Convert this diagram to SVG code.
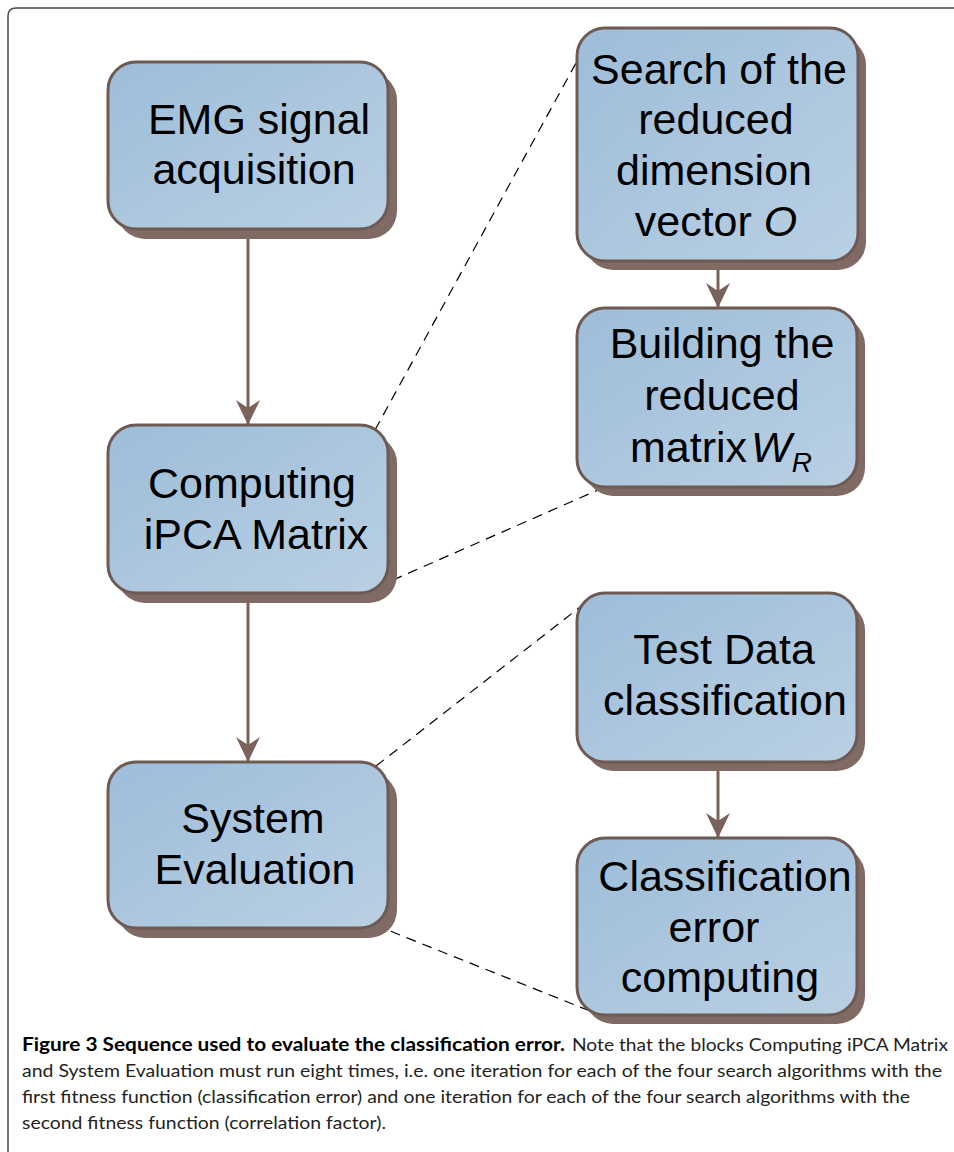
<svg xmlns="http://www.w3.org/2000/svg" width="954" height="1152" viewBox="0 0 954 1152">
  <defs>
    <linearGradient id="boxFill" x1="0" y1="0" x2="1" y2="1">
      <stop offset="0" stop-color="#9dbdd9"/>
      <stop offset="1" stop-color="#bad0e3"/>
    </linearGradient>
    <!-- concave arrowhead drawn along +x so orient="auto" follows the line -->
    <marker id="head" markerUnits="userSpaceOnUse" markerWidth="26" markerHeight="26" refX="25" refY="12" orient="auto" viewBox="0 0 26 24">
      <path d="M0,0 L8,12 L0,24 L25,12 Z" fill="#7a625a"/>
    </marker>
    <style>
      .frame { fill: none; stroke: #4a4a4a; stroke-width: 1.5; }
      .shadow { fill: #7f6b64; }
      .box { fill: url(#boxFill); stroke: #6e5a53; stroke-width: 3; }
      .label { font-family: "Liberation Sans", Arial, Helvetica, sans-serif; font-size: 43px; fill: #000; text-anchor: middle; }
      .it { font-style: italic; }
      .flow { stroke: #7a625a; stroke-width: 3; fill: none; }
      .zoom { stroke: #000; stroke-width: 1.2; stroke-dasharray: 10 7; fill: none; }
      .cap { font-family: Lato, "Open Sans", sans-serif; font-size: 18px; fill: #231f20; }
      .capb { font-weight: bold; fill: #000; }
    </style>
  </defs>

  <!-- figure frame -->
  <path class="frame" d="M8,1152 V16 Q8,8 16,8 H954"/>

  <!-- connectors -->
  <g id="connectors">
    <line class="flow" x1="248" y1="229" x2="248" y2="425" marker-end="url(#head)"/>
    <line class="flow" x1="248" y1="593" x2="248" y2="762" marker-end="url(#head)"/>
    <line class="flow" x1="718" y1="261" x2="718" y2="308" marker-end="url(#head)"/>
    <line class="flow" x1="718" y1="762" x2="718" y2="838" marker-end="url(#head)"/>
    <line class="zoom" x1="375" y1="430" x2="593" y2="32"/>
    <line class="zoom" x1="377" y1="587" x2="598" y2="490"/>
    <line class="zoom" x1="376" y1="766" x2="593" y2="597"/>
    <line class="zoom" x1="375" y1="925" x2="600" y2="1015"/>
  </g>

  <g id="emg">
    <rect class="shadow" x="117" y="72" width="280" height="167" rx="28"/>
    <rect class="box" x="108" y="62" width="280" height="167" rx="28"/>
    <text class="label" x="259" y="134">EMG signal</text>
    <text class="label" x="254" y="184">acquisition</text>
  </g>

  <g id="ipca">
    <rect class="shadow" x="117" y="435" width="280" height="168" rx="28"/>
    <rect class="box" x="108" y="425" width="280" height="168" rx="28"/>
    <text class="label" x="252" y="498">Computing</text>
    <text class="label" x="256" y="549">iPCA Matrix</text>
  </g>

  <g id="evaluation">
    <rect class="shadow" x="117" y="772" width="280" height="166" rx="28"/>
    <rect class="box" x="108" y="762" width="280" height="166" rx="28"/>
    <text class="label" x="253" y="833">System</text>
    <text class="label" x="255" y="884">Evaluation</text>
  </g>

  <g id="search">
    <rect class="shadow" x="585" y="37" width="281" height="233" rx="28"/>
    <rect class="box" x="577" y="28" width="281" height="233" rx="28"/>
    <text class="label" x="719" y="84">Search of the</text>
    <text class="label" x="716" y="134">reduced</text>
    <text class="label" x="714" y="185">dimension</text>
    <text class="label" x="716" y="236">vector <tspan class="it">O</tspan></text>
  </g>

  <g id="building">
    <rect class="shadow" x="585" y="317" width="280" height="179" rx="28"/>
    <rect class="box" x="577" y="308" width="280" height="179" rx="28"/>
    <text class="label" x="722" y="358">Building the</text>
    <text class="label" x="722" y="410">reduced</text>
    <text class="label" x="721" y="462">matrix<tspan class="it" dx="4">W</tspan><tspan class="it" font-size="28" dy="10">R</tspan></text>
  </g>

  <g id="test">
    <rect class="shadow" x="585" y="602" width="280" height="169" rx="28"/>
    <rect class="box" x="577" y="593" width="280" height="169" rx="28"/>
    <text class="label" x="724" y="664">Test Data</text>
    <text class="label" x="725" y="715">classification</text>
  </g>

  <g id="error">
    <rect class="shadow" x="585" y="847" width="280" height="177" rx="28"/>
    <rect class="box" x="577" y="838" width="280" height="177" rx="28"/>
    <text class="label" x="725" y="891">Classification</text>
    <text class="label" x="714" y="942">error</text>
    <text class="label" x="720" y="992">computing</text>
  </g>

  <!-- caption -->
  <g id="caption">
    <text class="cap capb" x="22" y="1051" textLength="543" lengthAdjust="spacingAndGlyphs">Figure 3 Sequence used to evaluate the classification error.</text>
    <text class="cap" x="572" y="1051" textLength="376" lengthAdjust="spacingAndGlyphs">Note that the blocks Computing iPCA Matrix</text>
    <text class="cap" x="22" y="1077" textLength="920" lengthAdjust="spacingAndGlyphs">and System Evaluation must run eight times, i.e. one iteration for each of the four search algorithms with the</text>
    <text class="cap" x="22" y="1103" textLength="888" lengthAdjust="spacingAndGlyphs">first fitness function (classification error) and one iteration for each of the four search algorithms with the</text>
    <text class="cap" x="22" y="1129" textLength="364" lengthAdjust="spacingAndGlyphs">second fitness function (correlation factor).</text>
  </g>
</svg>
